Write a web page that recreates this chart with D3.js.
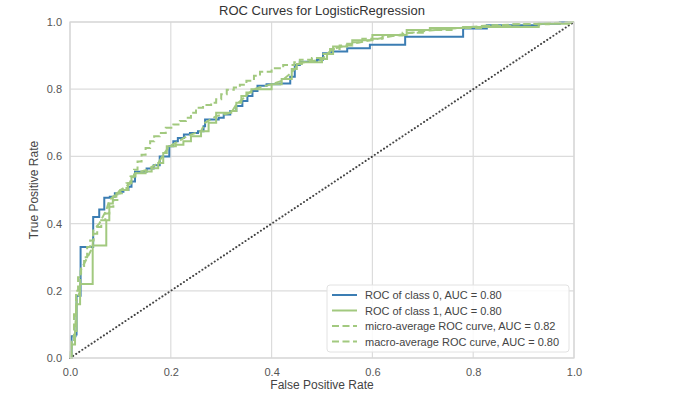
<!DOCTYPE html>
<html lang="en">
<head>
    <meta charset="UTF-8">
    <title>ROC Curves for LogisticRegression</title>
    <style>
        body { margin: 0; background: #fff; }
        svg { font-family: "Liberation Sans", Arial, sans-serif; }
    </style>
</head>
<body>
    <svg id="container" width="700" height="408"></svg>
</body>

<script src="https://cdn.jsdelivr.net/npm/d3@7/dist/d3.min.js"></script>

<script>

    // ROC of class 0 (fpr where tpr steps up, new tpr)
    let fpr0 = [0, 0.003, 0.011, 0.013, 0.021, 0.046, 0.058, 0.068, 0.079, 0.089, 0.098, 0.106, 0.116, 0.122, 0.129, 0.152, 0.166, 0.178, 0.197, 0.205, 0.214, 0.226, 0.238, 0.254, 0.265, 0.268, 0.295, 0.305, 0.318, 0.33, 0.342, 0.352, 0.362, 0.372, 0.39, 0.417, 0.437, 0.446, 0.456, 0.49, 0.502, 0.52, 0.55, 0.595, 0.665, 0.78, 0.827, 0.93, 0.972, 1.0]
    let tpr0 = [0, 0.065, 0.07, 0.185, 0.33, 0.42, 0.442, 0.477, 0.48, 0.49, 0.495, 0.50, 0.51, 0.525, 0.554, 0.564, 0.574, 0.60, 0.63, 0.645, 0.655, 0.665, 0.67, 0.675, 0.69, 0.71, 0.715, 0.725, 0.735, 0.75, 0.765, 0.78, 0.795, 0.81, 0.815, 0.817, 0.837, 0.872, 0.882, 0.888, 0.907, 0.912, 0.922, 0.932, 0.956, 0.981, 0.99, 0.995, 1.0, 1.0]

    // ROC of class 1
    let fpr1 = [0, 0.003, 0.01, 0.013, 0.02, 0.045, 0.072, 0.078, 0.085, 0.092, 0.10, 0.115, 0.122, 0.13, 0.15, 0.162, 0.175, 0.185, 0.192, 0.21, 0.225, 0.24, 0.26, 0.275, 0.29, 0.32, 0.33, 0.34, 0.35, 0.36, 0.40, 0.42, 0.44, 0.45, 0.46, 0.50, 0.51, 0.522, 0.55, 0.56, 0.60, 0.668, 0.714, 0.78, 0.93, 0.99, 1.0]
    let tpr1 = [0, 0.04, 0.08, 0.16, 0.22, 0.335, 0.41, 0.46, 0.48, 0.49, 0.50, 0.52, 0.54, 0.55, 0.555, 0.565, 0.58, 0.61, 0.63, 0.635, 0.645, 0.66, 0.675, 0.70, 0.73, 0.735, 0.76, 0.78, 0.79, 0.80, 0.815, 0.83, 0.86, 0.875, 0.88, 0.89, 0.905, 0.927, 0.935, 0.946, 0.961, 0.976, 0.982, 0.985, 0.995, 1.0, 1.0]

    // micro-average
    let fprMicro = [0, 0.003, 0.008, 0.012, 0.016, 0.022, 0.028, 0.034, 0.04, 0.047, 0.054, 0.062, 0.07, 0.078, 0.086, 0.094, 0.103, 0.112, 0.12, 0.127, 0.134, 0.142, 0.15, 0.159, 0.167, 0.178, 0.19, 0.205, 0.218, 0.23, 0.24, 0.25, 0.264, 0.28, 0.29, 0.3, 0.311, 0.325, 0.337, 0.35, 0.365, 0.377, 0.4, 0.423, 0.445, 0.456, 0.48, 0.5, 0.516, 0.535, 0.56, 0.58, 0.62, 0.66, 0.70, 0.76, 0.82, 0.88, 0.95, 1.0]
    let tprMicro = [0, 0.05, 0.13, 0.2, 0.24, 0.27, 0.30, 0.33, 0.35, 0.37, 0.39, 0.41, 0.43, 0.45, 0.47, 0.49, 0.50, 0.52, 0.54, 0.56, 0.585, 0.605, 0.625, 0.645, 0.66, 0.67, 0.685, 0.695, 0.705, 0.715, 0.73, 0.745, 0.753, 0.76, 0.77, 0.785, 0.798, 0.805, 0.813, 0.825, 0.84, 0.852, 0.862, 0.872, 0.88, 0.888, 0.893, 0.905, 0.92, 0.93, 0.94, 0.95, 0.96, 0.968, 0.976, 0.982, 0.988, 0.993, 0.997, 1.0]

    // macro-average
    let fprMacro = [0, 0.003, 0.01, 0.013, 0.02, 0.021, 0.045, 0.046, 0.058, 0.072, 0.078, 0.09, 0.1, 0.116, 0.122, 0.13, 0.152, 0.175, 0.185, 0.197, 0.21, 0.226, 0.24, 0.26, 0.268, 0.29, 0.32, 0.33, 0.342, 0.352, 0.365, 0.4, 0.42, 0.44, 0.456, 0.5, 0.51, 0.522, 0.56, 0.6, 0.668, 0.714, 0.78, 0.83, 0.93, 1.0]
    let tprMacro = [0, 0.05, 0.075, 0.17, 0.2, 0.26, 0.33, 0.38, 0.40, 0.44, 0.47, 0.485, 0.5, 0.515, 0.53, 0.55, 0.56, 0.58, 0.605, 0.63, 0.64, 0.655, 0.665, 0.675, 0.70, 0.72, 0.73, 0.755, 0.77, 0.785, 0.80, 0.815, 0.825, 0.85, 0.878, 0.888, 0.905, 0.92, 0.935, 0.947, 0.966, 0.975, 0.983, 0.99, 0.995, 1.0]

    let ticks = [0, 0.2, 0.4, 0.6, 0.8, 1.0]
    let labels = ["ROC of class 0, AUC = 0.80", "ROC of class 1, AUC = 0.80",
                  "micro-average ROC curve, AUC = 0.82", "macro-average ROC curve, AUC = 0.80"]

    let blue = "#3b7db3"
    let green = "#a2c97f"

    let svg = d3.select("#container")

    let x = d3.scaleLinear().domain([0, 1]).range([70, 574])
    let y = d3.scaleLinear().domain([0, 1]).range([358, 22])

    // grid
    svg.append("g")
        .selectAll("line.vx")
        .data(ticks)
        .join("line")
        .attr("x1", d => x(d)).attr("x2", d => x(d))
        .attr("y1", y(0)).attr("y2", y(1))
        .attr("stroke", "#dcdcdc").attr("stroke-width", 1.2)

    svg.append("g")
        .selectAll("line.hy")
        .data(ticks)
        .join("line")
        .attr("y1", d => y(d)).attr("y2", d => y(d))
        .attr("x1", x(0)).attr("x2", x(1))
        .attr("stroke", "#dcdcdc").attr("stroke-width", 1.2)

    // axes (labels only)
    let xAxis = svg.append("g")
        .attr("transform", `translate(0,${y(0)})`)
        .call(d3.axisBottom(x).tickValues(ticks).tickFormat(d3.format(".1f")).tickSize(0).tickPadding(10))
    let yAxis = svg.append("g")
        .attr("transform", `translate(${x(0)},0)`)
        .call(d3.axisLeft(y).tickValues(ticks).tickFormat(d3.format(".1f")).tickSize(0).tickPadding(8))

    for (let ax of [xAxis, yAxis]) {
        ax.select(".domain").remove()
        ax.selectAll("text")
            .attr("font-family", "Liberation Sans, Arial, sans-serif")
            .attr("font-size", 11)
            .attr("fill", "#555")
    }

    // diagonal
    svg.append("line")
        .attr("x1", x(0)).attr("y1", y(0))
        .attr("x2", x(1)).attr("y2", y(1))
        .attr("stroke", "#444")
        .attr("stroke-width", 2)
        .attr("stroke-linecap", "round")
        .attr("stroke-dasharray", "0.1,3.6")

    let stepLine = d3.line()
        .x(d => x(d[0]))
        .y(d => y(d[1]))
        .curve(d3.curveStepAfter)

    let straight = d3.line()
        .x(d => x(d[0]))
        .y(d => y(d[1]))

    let series = [
        { xs: fpr0, ys: tpr0, color: blue, dash: null, gen: stepLine },
        { xs: fpr1, ys: tpr1, color: green, dash: null, gen: stepLine },
        { xs: fprMicro, ys: tprMicro, color: green, dash: "7,3.5", gen: stepLine },
        { xs: fprMacro, ys: tprMacro, color: green, dash: "7,3.5", gen: straight }
    ]

    svg.append("g")
        .selectAll("path")
        .data(series)
        .join("path")
        .attr("d", s => s.gen(s.xs.map((v, i) => [v, s.ys[i]])))
        .attr("fill", "none")
        .attr("stroke", s => s.color)
        .attr("stroke-width", 2)
        .attr("stroke-dasharray", s => s.dash)

    // frame
    svg.append("rect")
        .attr("x", x(0)).attr("y", y(1))
        .attr("width", x(1) - x(0)).attr("height", y(0) - y(1))
        .attr("fill", "none")
        .attr("stroke", "#d6d6d6")
        .attr("stroke-width", 1.2)

    // legend
    let legend = svg.append("g").attr("transform", "translate(327,285)")
    legend.append("rect")
        .attr("width", 242).attr("height", 67)
        .attr("rx", 3)
        .attr("fill", "#fff").attr("fill-opacity", 0.85)
        .attr("stroke", "#e2e2e2")

    let rows = legend.selectAll("g.row")
        .data(series)
        .join("g")
        .attr("transform", (d, i) => `translate(0,${10 + i * 15.5})`)

    rows.append("line")
        .attr("x1", 5).attr("x2", 30)
        .attr("stroke", d => d.color)
        .attr("stroke-width", 2)
        .attr("stroke-dasharray", d => d.dash)

    rows.append("text")
        .attr("x", 38).attr("y", 4)
        .attr("font-size", 11)
        .attr("fill", "#444")
        .text((d, i) => labels[i])

    // titles
    svg.append("text")
        .attr("x", (x(0) + x(1)) / 2).attr("y", 15)
        .attr("text-anchor", "middle")
        .attr("font-size", 13)
        .attr("fill", "#333")
        .text("ROC Curves for LogisticRegression")

    svg.append("text")
        .attr("x", (x(0) + x(1)) / 2).attr("y", 389)
        .attr("text-anchor", "middle")
        .attr("font-size", 12)
        .attr("fill", "#444")
        .text("False Positive Rate")

    svg.append("text")
        .attr("transform", `translate(38,${(y(0) + y(1)) / 2}) rotate(-90)`)
        .attr("text-anchor", "middle")
        .attr("font-size", 12)
        .attr("fill", "#444")
        .text("True Positive Rate")

</script>

</html>
